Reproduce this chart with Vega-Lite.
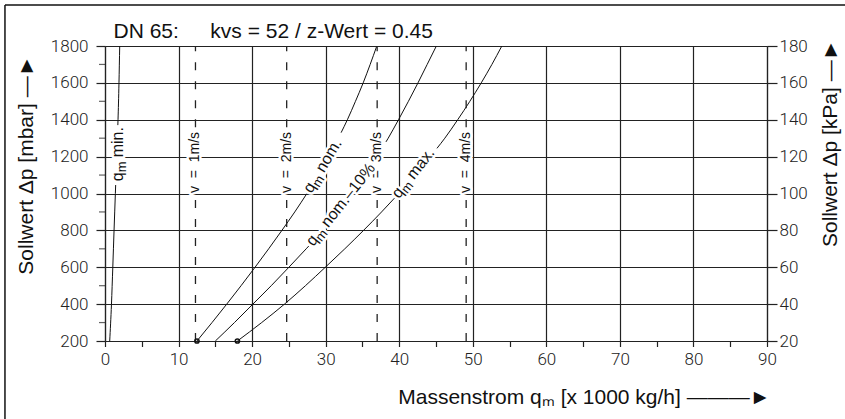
{
  "$schema": "https://vega.github.io/schema/vega-lite/v6.json",
  "width": 662,
  "height": 295,
  "autosize": {"type": "none"},
  "padding": {"left": 105, "top": 46, "right": 78, "bottom": 78},
  "background": "white",
  "title": {
    "text": "DN 65:\u2003\u2002kvs = 52 / z-Wert = 0.45",
    "anchor": "start", "frame": "group", "dx": 8.5, "offset": 0, "dy": 55, "baseline": "alphabetic",
    "font": "Liberation Sans", "fontSize": 21, "fontWeight": "normal", "color": "#111"
  },
  "config": {
    "view": {"stroke": null},
    "axis": {
      "domainColor": "#222", "domainWidth": 1.2, "tickColor": "#222", "tickWidth": 1.2,
      "gridColor": "#222", "gridWidth": 1.2,
      "labelFont": "Roboto", "labelFontWeight": 300, "labelFontSize": 17, "labelColor": "#222",
      "labelFlush": false, "labelOverlap": false,
      "titleFont": "Liberation Sans", "titleFontSize": 21, "titleFontWeight": "normal", "titleColor": "#111"
    }
  },
  "datasets": {
    "curves": [
      {"s": "minA", "q": 0.64, "dp": 200}, {"s": "minA", "q": 0.88, "dp": 400}, {"s": "minA", "q": 1.06, "dp": 600},
      {"s": "minA", "q": 1.23, "dp": 800}, {"s": "minA", "q": 1.41, "dp": 1000}, {"s": "minA", "q": 1.45, "dp": 1046},
      {"s": "minB", "q": 1.745, "dp": 1371}, {"s": "minB", "q": 1.77, "dp": 1400}, {"s": "minB", "q": 1.9, "dp": 1600}, {"s": "minB", "q": 2.0, "dp": 1800},
      {"s": "nomA", "q": 12.5, "dp": 200}, {"s": "nomA", "q": 14.55, "dp": 300}, {"s": "nomA", "q": 16.55, "dp": 400},
      {"s": "nomA", "q": 18.5, "dp": 500}, {"s": "nomA", "q": 20.4, "dp": 600}, {"s": "nomA", "q": 22.25, "dp": 700},
      {"s": "nomA", "q": 24.05, "dp": 800}, {"s": "nomA", "q": 25.8, "dp": 900}, {"s": "nomA", "q": 27.45, "dp": 1000},
      {"s": "nomB", "q": 32.1, "dp": 1330}, {"s": "nomB", "q": 32.95, "dp": 1400}, {"s": "nomB", "q": 34.05, "dp": 1500},
      {"s": "nomB", "q": 35.1, "dp": 1600}, {"s": "nomB", "q": 36.05, "dp": 1700}, {"s": "nomB", "q": 36.95, "dp": 1800},
      {"s": "n10A", "q": 15.0, "dp": 200}, {"s": "n10A", "q": 17.6, "dp": 300}, {"s": "n10A", "q": 20.1, "dp": 400},
      {"s": "n10A", "q": 22.6, "dp": 500}, {"s": "n10A", "q": 25.0, "dp": 600}, {"s": "n10A", "q": 27.35, "dp": 700},
      {"s": "n10A", "q": 27.7, "dp": 715},
      {"s": "n10B", "q": 35.93, "dp": 1135}, {"s": "n10B", "q": 36.42, "dp": 1165},
      {"s": "n10C", "q": 38.2, "dp": 1280}, {"s": "n10C", "q": 38.5, "dp": 1300}, {"s": "n10C", "q": 39.9, "dp": 1400},
      {"s": "n10C", "q": 41.25, "dp": 1500}, {"s": "n10C", "q": 42.55, "dp": 1600}, {"s": "n10C", "q": 43.8, "dp": 1700},
      {"s": "n10C", "q": 45.05, "dp": 1800},
      {"s": "maxA", "q": 18.0, "dp": 200}, {"s": "maxA", "q": 21.3, "dp": 300}, {"s": "maxA", "q": 24.4, "dp": 400},
      {"s": "maxA", "q": 27.25, "dp": 500}, {"s": "maxA", "q": 29.95, "dp": 600}, {"s": "maxA", "q": 32.6, "dp": 700},
      {"s": "maxA", "q": 35.15, "dp": 800}, {"s": "maxA", "q": 37.6, "dp": 900}, {"s": "maxA", "q": 39.36, "dp": 975},
      {"s": "maxB", "q": 45.13, "dp": 1245}, {"s": "maxB", "q": 46.2, "dp": 1300}, {"s": "maxB", "q": 47.95, "dp": 1400},
      {"s": "maxB", "q": 49.6, "dp": 1500}, {"s": "maxB", "q": 51.15, "dp": 1600}, {"s": "maxB", "q": 52.6, "dp": 1700},
      {"s": "maxB", "q": 53.95, "dp": 1800}
    ],
    "vlines": [
      {"v": "1m/s", "q": 12.3, "lo": 200, "hi": 980}, {"v": "1m/s", "q": 12.3, "lo": 1360, "hi": 1800},
      {"v": "2m/s", "q": 24.7, "lo": 200, "hi": 980}, {"v": "2m/s", "q": 24.7, "lo": 1360, "hi": 1800},
      {"v": "3m/s", "q": 37.0, "lo": 200, "hi": 980}, {"v": "3m/s", "q": 37.0, "lo": 1360, "hi": 1800},
      {"v": "4m/s", "q": 49.1, "lo": 200, "hi": 980}, {"v": "4m/s", "q": 49.1, "lo": 1360, "hi": 1800}
    ],
    "vlab": [
      {"t": "v\u00a0\u00a0=\u00a0\u00a01m/s", "q": 12.3, "dp": 1168},
      {"t": "v\u00a0\u00a0=\u00a0\u00a02m/s", "q": 24.7, "dp": 1168},
      {"t": "v\u00a0\u00a0=\u00a0\u00a03m/s", "q": 37.0, "dp": 1168},
      {"t": "v\u00a0\u00a0=\u00a0\u00a04m/s", "q": 49.1, "dp": 1168}
    ],
    "starts": [{"q": 12.5, "dp": 200}, {"q": 18.0, "dp": 200}],
    "minorY": [{"dp": 300}, {"dp": 500}, {"dp": 700}, {"dp": 900}, {"dp": 1100}, {"dp": 1300}, {"dp": 1500}, {"dp": 1700}]
  },
  "layer": [
    {
      "layer": [
        {
          "data": {"name": "curves"},
          "mark": {"type": "line", "color": "#111", "strokeWidth": 1, "interpolate": "monotone"},
          "encoding": {
            "x": {
              "field": "q", "type": "quantitative",
              "scale": {"domain": [0, 90], "nice": false, "zero": false},
              "axis": {
                "title": "Massenstrom qₘ [x 1000 kg/h] ———►",
                "values": [0, 5, 10, 15, 20, 25, 30, 35, 40, 45, 50, 55, 60, 65, 70, 75, 80, 85, 90],
                "tickCount": 100,
                "format": "d",
                "labelExpr": "datum.value % 10 === 0 ? datum.label : ''",
                "labelOverlap": false,
                "grid": true,
                "gridOpacity": {"condition": {"test": "datum.value % 10 === 0", "value": 1}, "value": 0},
                "tickSize": 5.5,
                "labelPadding": 5,
                "titleX": 665, "titleY": 62, "titleAlign": "right", "titleBaseline": "alphabetic", "titleAngle": 0
              }
            },
            "y": {
              "field": "dp", "type": "quantitative",
              "scale": {"domain": [200, 1800], "nice": false, "zero": false},
              "axis": {
                "orient": "left",
                "title": "Sollwert Δp [mbar] —►",
                "values": [200, 400, 600, 800, 1000, 1200, 1400, 1600, 1800],
                "tickCount": 100,
                "format": "d",
                "labelOverlap": false,
                "grid": true,
                "tickSize": 9,
                "labelPadding": 8,
                "titleX": -73, "titleY": 9, "titleAngle": 270, "titleAlign": "right", "titleBaseline": "alphabetic"
              }
            },
            "detail": {"field": "s", "type": "nominal"},
            "order": {"field": "dp", "type": "quantitative"}
          }
        },
        {
          "data": {"name": "minorY"},
          "mark": {"type": "tick", "orient": "horizontal", "size": 6, "thickness": 1.2, "xOffset": -3, "color": "#222"},
          "encoding": {"x": {"datum": 0}, "y": {"field": "dp", "type": "quantitative"}}
        },
        {
          "data": {"values": [{}]},
          "mark": {"type": "rule", "color": "#111", "strokeWidth": 1.5},
          "encoding": {"x": {"datum": -13.6}, "y": {"datum": 2022}, "y2": {"datum": -500}}
        },
        {
          "data": {"values": [{}]},
          "mark": {"type": "rule", "color": "#111", "strokeWidth": 1.5},
          "encoding": {"x": {"datum": -13.6}, "x2": {"datum": 150}, "y": {"datum": 2022}}
        },
        {
          "data": {"name": "vlines"},
          "mark": {"type": "rule", "color": "#222", "strokeWidth": 1.3, "strokeDash": [8, 11]},
          "encoding": {
            "x": {"field": "q", "type": "quantitative"},
            "y": {"field": "lo", "type": "quantitative"},
            "y2": {"field": "hi"}
          }
        },
        {
          "data": {"name": "starts"},
          "mark": {"type": "point", "filled": false, "size": 18, "color": "#111", "strokeWidth": 1.5, "opacity": 1},
          "encoding": {
            "x": {"field": "q", "type": "quantitative"},
            "y": {"field": "dp", "type": "quantitative"}
          }
        },
        {
          "data": {"name": "vlab"},
          "encoding": {
            "x": {"field": "q", "type": "quantitative"},
            "y": {"field": "dp", "type": "quantitative"},
            "text": {"field": "t"}
          },
          "layer": [
            {"mark": {"type": "text", "angle": 270, "align": "center", "baseline": "middle", "font": "Liberation Sans", "fontSize": 14, "fill": "white", "stroke": "white", "strokeWidth": 5, "strokeJoin": "round"}},
            {"mark": {"type": "text", "angle": 270, "align": "center", "baseline": "middle", "font": "Liberation Sans", "fontSize": 14, "fill": "#111"}}
          ]
        },
        {
          "data": {"values": [{"q": 1.85, "dp": 1055}]},
          "encoding": {"x": {"field": "q", "type": "quantitative"}, "y": {"field": "dp", "type": "quantitative"}},
          "layer": [
            {"mark": {"type": "text", "angle": 270, "align": "left", "baseline": "alphabetic", "dx": 2, "dy": 4.2, "font": "Liberation Sans", "fontSize": 16, "fill": "white", "stroke": "white", "strokeWidth": 5, "strokeJoin": "round"}, "encoding": {"text": {"value": "q"}}},
            {"mark": {"type": "text", "angle": 270, "align": "left", "baseline": "alphabetic", "dx": 11, "dy": 7.7, "font": "Liberation Sans", "fontSize": 13, "fill": "white", "stroke": "white", "strokeWidth": 5, "strokeJoin": "round"}, "encoding": {"text": {"value": "m"}}},
            {"mark": {"type": "text", "angle": 270, "align": "left", "baseline": "alphabetic", "dx": 26, "dy": 4.2, "font": "Liberation Sans", "fontSize": 16, "fill": "white", "stroke": "white", "strokeWidth": 5, "strokeJoin": "round"}, "encoding": {"text": {"value": "min."}}},
            {"mark": {"type": "text", "angle": 270, "align": "left", "baseline": "alphabetic", "dx": 2, "dy": 4.2, "font": "Liberation Sans", "fontSize": 16, "fill": "#111"}, "encoding": {"text": {"value": "q"}}},
            {"mark": {"type": "text", "angle": 270, "align": "left", "baseline": "alphabetic", "dx": 11, "dy": 7.7, "font": "Liberation Sans", "fontSize": 13, "fill": "#111"}, "encoding": {"text": {"value": "m"}}},
            {"mark": {"type": "text", "angle": 270, "align": "left", "baseline": "alphabetic", "dx": 26, "dy": 4.2, "font": "Liberation Sans", "fontSize": 16, "fill": "#111"}, "encoding": {"text": {"value": "min."}}}
          ]
        },
        {
          "data": {"values": [{"q": 27.45, "dp": 1000}]},
          "encoding": {"x": {"field": "q", "type": "quantitative"}, "y": {"field": "dp", "type": "quantitative"}},
          "layer": [
            {"mark": {"type": "text", "angle": 301, "align": "left", "baseline": "alphabetic", "dx": 2, "dy": 4.2, "font": "Liberation Sans", "fontSize": 16, "fill": "white", "stroke": "white", "strokeWidth": 5, "strokeJoin": "round"}, "encoding": {"text": {"value": "q"}}},
            {"mark": {"type": "text", "angle": 301, "align": "left", "baseline": "alphabetic", "dx": 11, "dy": 7.7, "font": "Liberation Sans", "fontSize": 13, "fill": "white", "stroke": "white", "strokeWidth": 5, "strokeJoin": "round"}, "encoding": {"text": {"value": "m"}}},
            {"mark": {"type": "text", "angle": 301, "align": "left", "baseline": "alphabetic", "dx": 26, "dy": 4.2, "font": "Liberation Sans", "fontSize": 16, "fill": "white", "stroke": "white", "strokeWidth": 5, "strokeJoin": "round"}, "encoding": {"text": {"value": "nom."}}},
            {"mark": {"type": "text", "angle": 301, "align": "left", "baseline": "alphabetic", "dx": 2, "dy": 4.2, "font": "Liberation Sans", "fontSize": 16, "fill": "#111"}, "encoding": {"text": {"value": "q"}}},
            {"mark": {"type": "text", "angle": 301, "align": "left", "baseline": "alphabetic", "dx": 11, "dy": 7.7, "font": "Liberation Sans", "fontSize": 13, "fill": "#111"}, "encoding": {"text": {"value": "m"}}},
            {"mark": {"type": "text", "angle": 301, "align": "left", "baseline": "alphabetic", "dx": 26, "dy": 4.2, "font": "Liberation Sans", "fontSize": 16, "fill": "#111"}, "encoding": {"text": {"value": "nom."}}}
          ]
        },
        {
          "data": {"values": [{"q": 27.7, "dp": 715}]},
          "encoding": {"x": {"field": "q", "type": "quantitative"}, "y": {"field": "dp", "type": "quantitative"}},
          "layer": [
            {"mark": {"type": "text", "angle": 308.5, "align": "left", "baseline": "alphabetic", "dx": 2, "dy": 4.2, "font": "Liberation Sans", "fontSize": 16, "fill": "white", "stroke": "white", "strokeWidth": 5, "strokeJoin": "round"}, "encoding": {"text": {"value": "q"}}},
            {"mark": {"type": "text", "angle": 308.5, "align": "left", "baseline": "alphabetic", "dx": 11, "dy": 7.7, "font": "Liberation Sans", "fontSize": 13, "fill": "white", "stroke": "white", "strokeWidth": 5, "strokeJoin": "round"}, "encoding": {"text": {"value": "m"}}},
            {"mark": {"type": "text", "angle": 308.5, "align": "left", "baseline": "alphabetic", "dx": 26, "dy": 4.2, "font": "Liberation Sans", "fontSize": 16, "fill": "white", "stroke": "white", "strokeWidth": 5, "strokeJoin": "round"}, "encoding": {"text": {"value": "nom.–10%"}}},
            {"mark": {"type": "text", "angle": 308.5, "align": "left", "baseline": "alphabetic", "dx": 2, "dy": 4.2, "font": "Liberation Sans", "fontSize": 16, "fill": "#111"}, "encoding": {"text": {"value": "q"}}},
            {"mark": {"type": "text", "angle": 308.5, "align": "left", "baseline": "alphabetic", "dx": 11, "dy": 7.7, "font": "Liberation Sans", "fontSize": 13, "fill": "#111"}, "encoding": {"text": {"value": "m"}}},
            {"mark": {"type": "text", "angle": 308.5, "align": "left", "baseline": "alphabetic", "dx": 26, "dy": 4.2, "font": "Liberation Sans", "fontSize": 16, "fill": "#111"}, "encoding": {"text": {"value": "nom.–10%"}}}
          ]
        },
        {
          "data": {"values": [{"q": 39.36, "dp": 975}]},
          "encoding": {"x": {"field": "q", "type": "quantitative"}, "y": {"field": "dp", "type": "quantitative"}},
          "layer": [
            {"mark": {"type": "text", "angle": 308.2, "align": "left", "baseline": "alphabetic", "dx": 2, "dy": 4.2, "font": "Liberation Sans", "fontSize": 16, "fill": "white", "stroke": "white", "strokeWidth": 5, "strokeJoin": "round"}, "encoding": {"text": {"value": "q"}}},
            {"mark": {"type": "text", "angle": 308.2, "align": "left", "baseline": "alphabetic", "dx": 11, "dy": 7.7, "font": "Liberation Sans", "fontSize": 13, "fill": "white", "stroke": "white", "strokeWidth": 5, "strokeJoin": "round"}, "encoding": {"text": {"value": "m"}}},
            {"mark": {"type": "text", "angle": 308.2, "align": "left", "baseline": "alphabetic", "dx": 26, "dy": 4.2, "font": "Liberation Sans", "fontSize": 16, "fill": "white", "stroke": "white", "strokeWidth": 5, "strokeJoin": "round"}, "encoding": {"text": {"value": "max."}}},
            {"mark": {"type": "text", "angle": 308.2, "align": "left", "baseline": "alphabetic", "dx": 2, "dy": 4.2, "font": "Liberation Sans", "fontSize": 16, "fill": "#111"}, "encoding": {"text": {"value": "q"}}},
            {"mark": {"type": "text", "angle": 308.2, "align": "left", "baseline": "alphabetic", "dx": 11, "dy": 7.7, "font": "Liberation Sans", "fontSize": 13, "fill": "#111"}, "encoding": {"text": {"value": "m"}}},
            {"mark": {"type": "text", "angle": 308.2, "align": "left", "baseline": "alphabetic", "dx": 26, "dy": 4.2, "font": "Liberation Sans", "fontSize": 16, "fill": "#111"}, "encoding": {"text": {"value": "max."}}}
          ]
        }
      ]
    },
    {
      "data": {"values": [{"k": 20}, {"k": 180}]},
      "mark": {"type": "point", "opacity": 0},
      "encoding": {
        "y": {
          "field": "k", "type": "quantitative",
          "scale": {"domain": [20, 180], "nice": false, "zero": false},
          "axis": {
            "orient": "right",
            "title": "Sollwert Δp [kPa] —►",
            "values": [20, 40, 60, 80, 100, 120, 140, 160, 180],
            "tickCount": 100,
            "format": "d",
            "labelOverlap": false,
            "grid": false, "tickSize": 10, "labelPadding": 2,
            "titleX": 69, "titleY": -7, "titleAngle": 270, "titleAlign": "right", "titleBaseline": "alphabetic"
          }
        }
      }
    }
  ],
  "resolve": {"scale": {"y": "independent"}, "axis": {"y": "independent"}}
}
